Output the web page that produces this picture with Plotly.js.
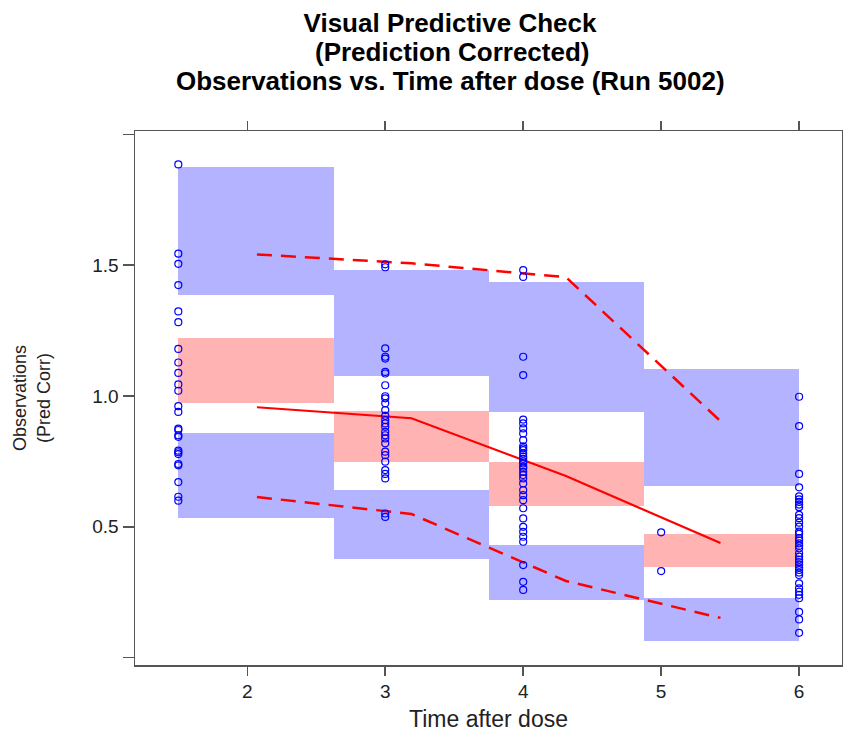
<!DOCTYPE html>
<html>
<head>
<meta charset="utf-8">
<script src="https://cdn.plot.ly/plotly-3.0.1.min.js"></script>
<style>html,body{margin:0;padding:0;background:#fff;}#chart{width:843px;height:732px;}</style>
</head>
<body>
<div id="chart"></div>
<script>
// ---- data ----
var binEdges = [1.5, 2.625, 3.75, 4.875, 6.0];
// simulated 95th percentile CI (upper blue boxes)
var p95Lo = [1.385, 1.077, 0.938, 0.656];
var p95Hi = [1.874, 1.481, 1.435, 1.102];
// simulated median CI (red boxes)
var p50Lo = [0.973, 0.748, 0.580, 0.346];
var p50Hi = [1.221, 0.943, 0.748, 0.472];
// simulated 5th percentile CI (lower blue boxes)
var p05Lo = [0.534, 0.377, 0.220, 0.064];
var p05Hi = [0.858, 0.640, 0.430, 0.228];

// observed percentiles
var obsTime = [2.07, 3.19, 4.31, 5.43];
var obsMedian = [0.957, 0.915, 0.694, 0.438];
var obsP95 = [1.541, 1.507, 1.454, 0.904];
var obsP05 = [0.614, 0.549, 0.293, 0.152];

// observations (prediction corrected)
var obsT15 = [1.885,1.544,1.505,1.424,1.323,1.282,1.180,1.128,1.088,1.044,1.020,0.961,0.939,0.875,0.870,0.850,0.844,0.791,0.785,0.778,0.740,0.735,0.671,0.615,0.600];
var obsT3 = [1.503,1.492,1.182,1.150,1.143,1.092,1.086,1.041,0.999,0.991,0.972,0.946,0.924,0.908,0.895,0.882,0.863,0.850,0.838,0.819,0.787,0.774,0.749,0.717,0.702,0.685,0.551,0.538];
var obsT4 = [1.481,1.455,1.150,1.080,0.910,0.895,0.876,0.857,0.831,0.808,0.800,0.793,0.780,0.768,0.760,0.750,0.742,0.730,0.723,0.710,0.698,0.685,0.666,0.640,0.621,0.602,0.571,0.532,0.500,0.481,0.462,0.443,0.354,0.290,0.259];
var obsT5 = [0.479,0.331];
var obsT6 = [0.997,0.885,0.702,0.651,0.616,0.605,0.595,0.585,0.575,0.546,0.533,0.516,0.501,0.482,0.473,0.457,0.447,0.437,0.428,0.418,0.399,0.386,0.375,0.365,0.355,0.345,0.335,0.325,0.316,0.284,0.265,0.252,0.240,0.227,0.175,0.146,0.095];
var obsTimes = [1.5, 3, 4, 5, 6];

var xTicks = [2, 3, 4, 5, 6];
var yTicks = [0, 0.5, 1.0, 1.5, 2.0];
var yTickText = ['', '0.5', '1.0', '1.5', ''];

// ---- build ----
var centers = [], widths = [];
for (var i = 0; i < binEdges.length - 1; i++) {
  centers.push((binEdges[i] + binEdges[i+1]) / 2);
  widths.push(binEdges[i+1] - binEdges[i]);
}
function band(lo, hi, color) {
  return {
    type: 'bar', x: centers, base: lo,
    y: hi.map(function(h, k){ return h - lo[k]; }),
    width: widths, marker: {color: color, line: {width: 0}},
    hoverinfo: 'skip'
  };
}
var blue = 'rgb(179,179,255)', pink = 'rgb(255,179,179)';
var traces = [
  band(p95Lo, p95Hi, blue),
  band(p50Lo, p50Hi, pink),
  band(p05Lo, p05Hi, blue)
];
var ox = [], oy = [];
[obsT15, obsT3, obsT4, obsT5, obsT6].forEach(function(arr, k){
  arr.forEach(function(v){ ox.push(obsTimes[k]); oy.push(v); });
});
traces.push({type:'scatter', mode:'lines', x: obsTime, y: obsP95,
  line:{color:'#ff0000', width:2.5, dash:'15px,9px'}});
traces.push({type:'scatter', mode:'lines', x: obsTime, y: obsP05,
  line:{color:'#ff0000', width:2.5, dash:'15px,9px'}});
traces.push({type:'scatter', mode:'lines', x: obsTime, y: obsMedian,
  line:{color:'#ff0000', width:2.2}});
traces.push({type:'scatter', mode:'markers', x: ox, y: oy,
  marker:{symbol:'circle-open', size:7, color:'#0000ff', line:{width:1.2, color:'#0000ff'}}});

var font = 'Liberation Sans, Arial, sans-serif';
var tsize = 26;
var layout = {
  width: 843, height: 732,
  margin: {l: 135, r: 1, t: 131, b: 67},
  paper_bgcolor: '#ffffff', plot_bgcolor: '#ffffff',
  showlegend: false, hovermode: false, barmode: 'overlay', bargap: 0,
  font: {family: font, color: '#222'},
  title: {text: 'Visual Predictive Check', x: 450/843, xanchor: 'center',
    xref: 'container', yref: 'container', y: 1 - 22.5/732, yanchor: 'middle',
    font: {family: font, size: tsize, weight: 'bold', color: '#000'}},
  annotations: [
    {text: '(Prediction Corrected)', xref: 'paper', yref: 'paper',
     x: (452-135)/707, y: (665-52)/534, xanchor: 'center', yanchor: 'middle',
     showarrow: false, font: {family: font, size: tsize, weight: 'bold', color: '#000'}},
    {text: 'Observations vs. Time after dose (Run 5002)', xref: 'paper', yref: 'paper',
     x: (450-135)/707, y: (665-81.5)/534, xanchor: 'center', yanchor: 'middle',
     showarrow: false, font: {family: font, size: tsize, weight: 'bold', color: '#000'}}
  ],
  xaxis: {
    range: [1.186, 6.311], tickvals: xTicks, ticktext: xTicks.map(String),
    ticks: 'outside', ticklen: 9, tickwidth: 1.5, tickcolor: '#555',
    showline: true, linecolor: '#555', linewidth: 1.5, mirror: 'ticks',
    showgrid: false, zeroline: false,
    tickfont: {family: font, size: 19, color: '#222'},
    title: {text: 'Time after dose', font: {family: font, size: 23, color: '#222'}, standoff: 13}
  },
  yaxis: {
    range: [-0.028, 2.0126], tickvals: yTicks, ticktext: yTickText,
    ticks: 'outside', ticklen: 11, tickwidth: 1.5, tickcolor: '#555',
    showline: true, linecolor: '#555', linewidth: 1.5, mirror: true,
    showgrid: false, zeroline: false,
    tickfont: {family: font, size: 19, color: '#222'},
    title: {text: 'Observations<br>(Pred Corr)', font: {family: font, size: 18, color: '#222'}, standoff: 37}
  }
};
Plotly.newPlot('chart', traces, layout, {displayModeBar: false, staticPlot: true});
</script>
</body>
</html>
